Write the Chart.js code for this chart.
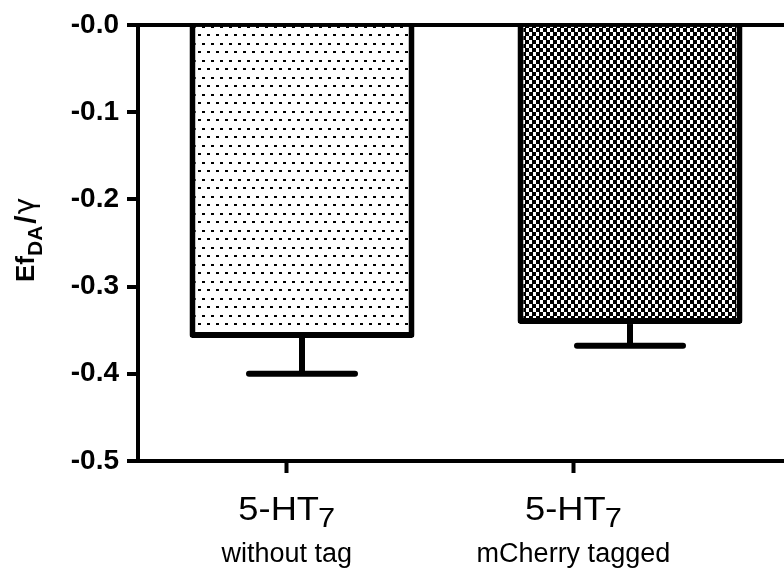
<!DOCTYPE html>
<html>
<head>
<meta charset="utf-8">
<script src="https://cdn.jsdelivr.net/npm/chart.js@4.4.1/dist/chart.umd.min.js"></script>
<style>
html, body { margin: 0; padding: 0; overflow: hidden; background: #fff; }
</style>
</head>
<body>
<canvas id="barChart" width="800" height="577"></canvas>
<script>
// data
const categories = ['5-HT7 without tag', '5-HT7 mCherry tagged'];
const labelMain = ['5-HT', '5-HT'];
const labelSub = ['7', '7'];
const labelSecond = ['without tag', 'mCherry tagged'];
const means = [-0.359, -0.343];
const errors = [0.041, 0.025];
const yTicks = [-0.5, -0.4, -0.3, -0.2, -0.1, 0];
const yTickLabels = ['-0.5', '-0.4', '-0.3', '-0.2', '-0.1', '-0.0'];
const xTickValues = [1, 2];

const FONT = '"Liberation Sans", Arial, Helvetica, sans-serif';

function dotPattern() {
	const c = document.createElement('canvas');
	c.width = 9; c.height = 17;
	const g = c.getContext('2d');
	g.fillStyle = '#fff';
	g.fillRect(0, 0, 9, 17);
	g.fillStyle = '#000';
	g.fillRect(0, 0, 3, 2);
	g.fillRect(4, 9, 3, 2);
	return g.createPattern(c, 'repeat');
}

// checker, black blocks a bit wider than the white ones
function checkPattern() {
	const c = document.createElement('canvas');
	c.width = 7; c.height = 8;
	const g = c.getContext('2d');
	g.fillStyle = '#fff';
	g.fillRect(0, 0, 7, 8);
	g.fillStyle = '#000';
	g.fillRect(0, 0, 4, 4);
	g.fillRect(4, 4, 3, 4);
	g.fillRect(0, 4, 1, 4);
	return g.createPattern(c, 'repeat');
}

const errorBars = {
	id: 'errorBars',
	afterDatasetsDraw(chart) {
		const ctx = chart.ctx, y = chart.scales.y;
		chart.getDatasetMeta(0).data.forEach((bar, i) => {
			const yEnd = y.getPixelForValue(means[i] - errors[i]);
			ctx.save();
			ctx.strokeStyle = '#000';
			ctx.lineWidth = 6;
			ctx.beginPath();
			ctx.moveTo(bar.x, bar.y);
			ctx.lineTo(bar.x, yEnd);
			ctx.stroke();
			ctx.lineCap = 'round';
			ctx.beginPath();
			ctx.moveTo(bar.x - 53, yEnd);
			ctx.lineTo(bar.x + 53, yEnd);
			ctx.stroke();
			ctx.restore();
		});
	}
};

// category labels with subscript, drawn under the bottom axis ticks
const xLabels = {
	id: 'xLabels',
	afterDraw(chart) {
		const ctx = chart.ctx, xt = chart.scales.xt;
		const top = xt.top;
		const sx = 1.1;
		xTickValues.forEach((v, i) => {
			const x = xt.getPixelForValue(v);
			ctx.save();
			ctx.fillStyle = '#000';
			ctx.textBaseline = 'alphabetic';
			ctx.textAlign = 'left';
			ctx.font = '33px ' + FONT;
			const wMain = ctx.measureText(labelMain[i]).width;
			ctx.font = '28px ' + FONT;
			const wSub = ctx.measureText(labelSub[i]).width;
			const w = wMain - 1 + wSub;
			ctx.save();
			ctx.translate(x - w * sx / 2, 0);
			ctx.scale(sx, 1);
			ctx.font = '33px ' + FONT;
			ctx.fillText(labelMain[i], 0, top + 59);
			ctx.font = '28px ' + FONT;
			ctx.fillText(labelSub[i], wMain - 1, top + 66);
			ctx.restore();
			ctx.textAlign = 'center';
			ctx.font = '27px ' + FONT;
			ctx.fillText(labelSecond[i], x, top + 101);
			ctx.restore();
		});
	}
};

const yTitle = {
	id: 'yTitle',
	afterDraw(chart) {
		const ctx = chart.ctx, a = chart.chartArea;
		const parts = [
			{ t: 'Ef', f: 'bold 26px ' + FONT, dy: 0, gap: 0 },
			{ t: 'DA', f: 'bold 21px ' + FONT, dy: 8, gap: 2 },
			{ t: '/', f: 'bold 30px ' + FONT, dy: 2, gap: 1 },
			{ t: 'γ', f: '28px "DejaVu Sans", ' + FONT, dy: 0, gap: 0 }
		];
		ctx.save();
		ctx.translate(34, (a.top + a.bottom) / 2 - 3);
		ctx.rotate(-Math.PI / 2);
		ctx.fillStyle = '#000';
		ctx.textBaseline = 'alphabetic';
		let total = 0;
		parts.forEach(p => { ctx.font = p.f; p.w = ctx.measureText(p.t).width; total += p.w + p.gap; });
		let x = -total / 2;
		parts.forEach(p => {
			ctx.font = p.f;
			ctx.fillText(p.t, x, p.dy);
			x += p.w + p.gap;
		});
		ctx.restore();
	}
};

new Chart(document.getElementById('barChart'), {
	type: 'bar',
	data: {
		labels: categories,
		datasets: [
			{
				data: means,
				backgroundColor: [dotPattern(), checkPattern()],
				borderColor: '#000',
				borderWidth: 6,
				borderRadius: 3,
				barPercentage: 0.686,
				categoryPercentage: 1
			}
		]
	},
	options: {
		responsive: false,
		animation: false,
		layout: {
			padding: { top: 23, right: 6, left: 0, bottom: 0 }
		},
		plugins: {
			legend: { display: false },
			tooltip: { enabled: false }
		},
		scales: {
			x: {
				type: 'category',
				display: false
			},
			xt: {
				type: 'linear',
				position: 'bottom',
				offset: false,
				min: 0.4813,
				max: 2.7694,
				afterBuildTicks: s => { s.ticks = xTickValues.map(v => ({ value: v })); },
				ticks: { display: false },
				grid: { offset: false, drawOnChartArea: false, tickLength: 12, tickWidth: 4, tickColor: '#000' },
				border: { color: '#000', width: 4 },
				afterFit: s => { s.height = 116; }
			},
			y: {
				min: -0.5,
				max: 0,
				z: 1,
				afterBuildTicks: s => { s.ticks = yTicks.map(v => ({ value: v })); },
				ticks: {
					autoSkip: false,
					callback: v => yTickLabels[yTicks.indexOf(v)],
					font: { family: FONT, size: 28, weight: 'bold' },
					color: '#000',
					padding: 8
				},
				grid: {
					color: c => c.tick && c.tick.value === 0 ? '#000' : 'rgba(0,0,0,0)',
					lineWidth: 4,
					tickColor: '#000',
					tickWidth: 4,
					tickLength: 11
				},
				border: { color: '#000', width: 4 },
				afterFit: s => { s.width = 138; }
			}
		}
	},
	plugins: [errorBars, xLabels, yTitle]
});
</script>
</body>
</html>
